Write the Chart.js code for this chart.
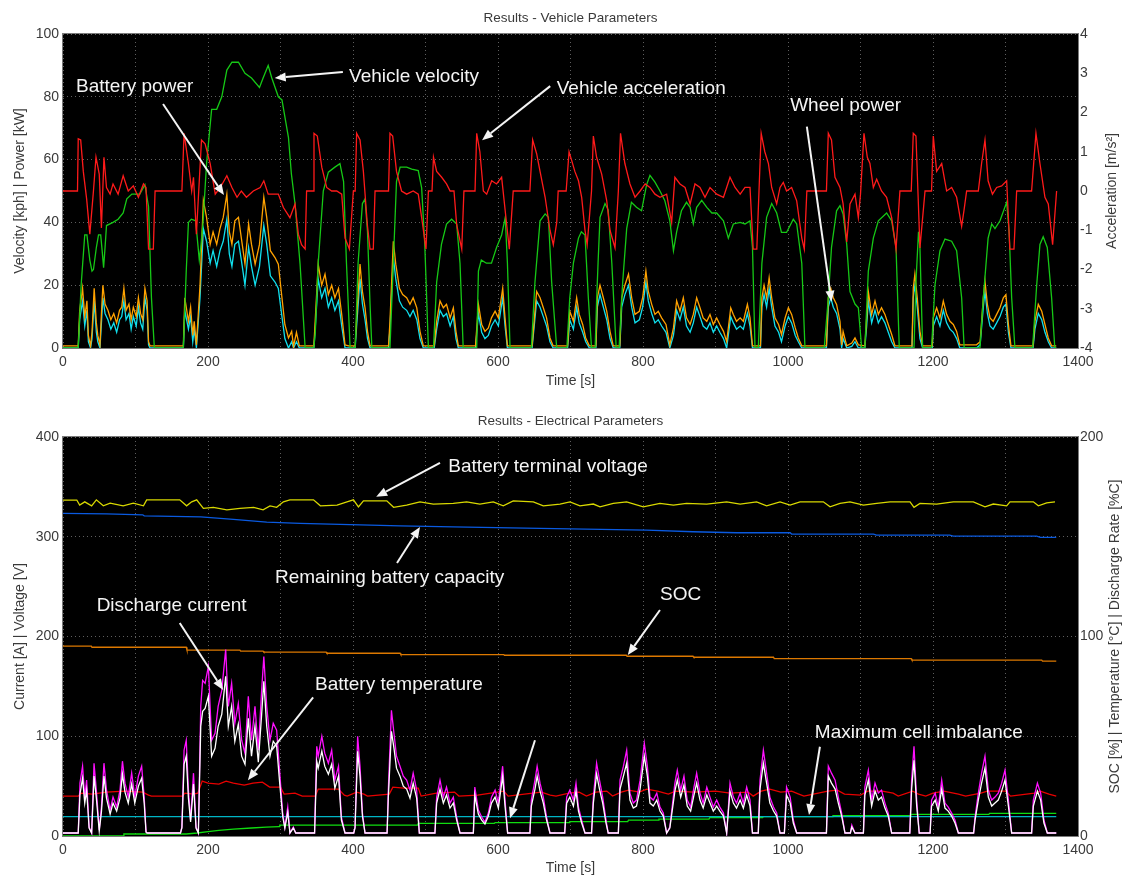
<!DOCTYPE html>
<html>
<head>
<meta charset="utf-8">
<script src="https://cdn.jsdelivr.net/npm/chart.js@4"></script>
<style>
  body { margin: 0; background: #fff; }
  canvas { position: absolute; left: 0; }
  #vehicle { top: 0; }
  #electric { top: 400px; }
</style>
</head>
<body>
<canvas id="vehicle" width="1128" height="400"></canvas>
<canvas id="electric" width="1128" height="477"></canvas>
<script>
// time [s] / value pairs
const velocity = [[0,0],[21,0],[25,20],[30,36],[33,36],[37,28],[40,24.5],[42,25],[46,32],[49,36],[52,36],[54,31],[56,25.6],[58,32],[60,39],[69,40],[76,41],[83,43],[88,47.5],[95,49],[106,49],[113,52],[118,45],[122,16],[126,0],
  [166,0],[170,24.5],[173,40],[177,41],[183,40.5],[186,33],[188,28],[190,32],[193,39.5],[198,58.7],[205,76],[212,76],[219,80],[226,88.5],[233,91],[242,91],[251,87.5],[260,86],[271,83],[276,86],[283,90],[288,86],[297,80],[302,79],[311,67],[315,55.5],[320,46],[327,26.7],[334,0],
  [346,0],[348,5],[352,27],[359,50],[366,56],[375,57.6],[382,58.7],[387,53],[391,27],[396,0],[403,0],[407,27],[413,46],[416.6,47.5],[420,37],[423.5,14],[426,0],
  [451,0],[455.6,27],[460,53],[465,57.6],[474,57.6],[481,57],[490,56.5],[494.7,51],[499,33],[504,0],[511,0],[515.4,21],[522,33],[529,39.5],[536,41],[543,39.5],[547.6,27],[552,0],
  [570.6,0],[573,24.5],[577,28],[584,27],[591,27],[598,32],[605,36],[610,41.6],[613,27],[616.6,0],[646,0],[651,21],[658,40.5],[665,42.7],[669.5,41.6],[674,21],[681,0],
  [695,0],[699,16],[704,27],[711,35],[715,37],[720,36],[724.6,16],[729,0],[734,0],[736,15],[738,27],[740.7,41.6],[747.6,46],[752,44],[757,27],[763,0],
  [767,0],[772,21],[777.5,38],[784,46.4],[791,44.8],[798,43.7],[805,52],[809.6,55],[816.5,52.8],[823.4,50],[830,47],[837,40.5],[842,31],[846.4,37],[853,43.7],[860,46.4],[865,44.8],[869.4,39.5],[874,44.8],[881,47],[888,44.8],[895,43],[901.6,43],[911,40.5],[917.7,35],[924.6,39.5],[934,40],[940.7,39.5],[947.6,40.5],[951,32],[954.5,0],
  [959,0],[964,27],[970.5,41.6],[977.5,46],[984.4,43],[991,36.8],[998,36.8],[1007.3,41],[1012,39.5],[1019,27],[1023.4,0],
  [1050,0],[1055.6,16],[1060,32],[1067,43.7],[1071.7,45.3],[1076,42.7],[1081,33],[1085.5,18],[1092.4,14],[1097,12.8],[1101.6,0],[1106,0],[1110.8,24.5],[1117.7,35],[1124.6,40.5],[1136,43],[1143,40.5],[1149,32],[1153.5,0],
  [1173.8,0],[1176.5,21],[1180,37],[1182,32],[1185.7,0],[1198,0],[1202.7,20],[1209.6,31],[1216.5,34.7],[1225.7,34],[1232.6,31],[1239.5,16],[1243,0],
  [1264.8,0],[1269.4,16],[1276,35],[1281,39.5],[1285.5,38],[1292.4,40.5],[1301.6,46.4],[1305,37],[1308.5,16],[1313,0],[1337.4,0],[1343,20],[1347.5,33],[1352,35.4],[1357.6,32],[1363.6,16],[1368,0],[1370,0]];

const acceleration = [[0,0],[20,0],[21,1.33],[24.4,1.3],[28,0.5],[32.6,-0.2],[37,-1.1],[42,0],[45.5,0.86],[50,0.43],[53,-0.94],[56.5,0.86],[60,0.09],[65,-0.08],[69,0.18],[76,-0.08],[83,0.39],[90,0],[97,0.13],[104,-0.16],[111,0.18],[114.5,0.09],[118,-1.48],[124.6,-1.48],[127,0],
  [164,0],[167,1.47],[173,0.7],[177.5,0],[180,0.35],[184,-1.1],[191,1.3],[196,1.2],[203,0.7],[210,-0.08],[217,0.09],[226,0.39],[233,0.09],[240,-0.16],[246,0],[253,-0.16],[262.5,0],[272,0.09],[277,0.26],[283,-0.08],[297,-0.08],[304,-0.42],[313,-0.68],[320,-0.33],[324.6,-1.1],[329,-1.37],[334,-1.48],[336,0],
  [345,0],[346.2,1.47],[350.8,1.4],[357,0.6],[363.7,0.09],[370.6,0],[377.5,0],[384.4,-0.08],[389,-1.2],[395,-1.48],[400.5,0],[403,0],[405,1.47],[409.7,1.3],[414.3,0.5],[419.8,-0.86],[423.5,-1.48],[428,-1.48],[430.4,0],
  [449,0],[451,1.47],[454.7,1.4],[460,0.5],[467,0],[474,-0.08],[483,0],[490,-0.08],[494.7,-0.68],[500.7,-1.48],[504,0],[509,0],[511,0.86],[515.4,0.5],[522.3,0.35],[529,0.18],[534,0],[539.3,0],[543,-0.86],[550,-1.48],[553,0],
  [568.3,0],[570.6,1.47],[575,1.0],[579.8,0],[584.4,-0.08],[591.3,0.26],[598,0.18],[605,0.35],[612,-0.86],[615.6,-1.48],[621,0],[644,0],[647.8,1.3],[653.3,0.95],[658,0.5],[665,-0.16],[671.7,-1.0],[676.3,-1.37],[681,-0.8],[683,0],
  [694,0],[698,1.0],[701.6,0.78],[706,0.5],[711,0.26],[715.4,-0.16],[720,-1.0],[723,-1.37],[729,0],[731.5,1.4],[736,0.86],[743,0.43],[750,-0.25],[754.5,-1.0],[761.4,-1.45],[766,0],
  [769,1.47],[775,0.7],[782,0.18],[789,-0.16],[796,0],[803,0.18],[809.6,0.09],[816.5,-0.08],[823.4,-0.16],[832.6,-0.08],[839.5,-0.8],[844,0.35],[851,0.18],[858,0.09],[865,-0.33],[871.7,0.18],[878.6,0.09],[885.5,-0.16],[892.4,0.09],[901.6,-0.08],[911,-0.16],[920,0.35],[927,0.09],[934,-0.08],[940.7,0.09],[947.6,0.09],[952,-1.48],[957,-1.48],[960,0],
  [963,1.47],[968,1.0],[973,0.7],[977.5,0.09],[984.4,-0.33],[989,0.09],[993.5,0.22],[998,0],[1005,0.09],[1012,-0.25],[1019,-1.2],[1022.5,-1.48],[1026,0],
  [1053,0],[1055.6,1.47],[1060,1.3],[1064.8,0.35],[1071.7,0.09],[1076,-0.33],[1081,-1.3],[1085.5,-0.33],[1092.4,-0.08],[1097,-0.68],[1100,-0.08],[1104.8,1.47],[1109.4,0.86],[1113,0.7],[1117.7,0.09],[1122.3,0.3],[1129,0],[1136,-0.16],[1143,-0.68],[1149,-1.48],[1154.4,0],
  [1170,0],[1172.8,1.47],[1176.5,1.4],[1182,-1.45],[1189,0],[1198,0],[1200.4,1.4],[1205,0.5],[1212,0.7],[1218.8,0],[1225.7,0.09],[1232.6,-0.16],[1239.5,-0.9],[1242.7,-0.5],[1246.4,0],
  [1262.5,0],[1267,0.7],[1271.7,1.3],[1276,0.26],[1282,-0.08],[1287.8,0.09],[1294.7,0.13],[1301.6,0.26],[1306,-1.48],[1311.7,-1.48],[1315.4,0],[1336,0],[1342,1.47],[1347.5,0.7],[1354.4,-0.16],[1359,-0.33],[1365,-1.37],[1370.5,0]];

const batteryPower = [[0,0.7],[21,0.7],[23,12],[27,19],[30,10],[33,15],[35,4],[38,0.7],[40,5],[43,19],[46,8],[48,4],[51,1],[53,11],[55,20],[58,14],[62,12],[66,9],[70,11],[74,8],[78,12],[81,13],[84,19],[87,12],[91,14],[94,9],[97,13],[101,10],[104,16],[107,11],[110,9],[113,19],[116,15],[118,2],[120,0.7],
  [166,0.7],[168,16],[173,8.5],[176,13],[179,4],[181,8.5],[184,1],[189,20],[193.6,47],[198,41.6],[203,33],[207,37],[212,33],[216.5,38],[221,41.6],[226,49],[229.4,37],[233,33],[237,40.5],[242,41.6],[246,35],[251,26.7],[256,39.5],[260,33],[265,26.7],[271,33],[277,48],[281,41.6],[286,31],[292.4,28.8],[297,26.7],[302,16],[306,7.5],[311,3.2],[315.4,5.3],[318,0.5],[322,5],[326,0.7],
  [346,0.7],[347.6,7.5],[352,26.7],[356.8,20],[361.4,23.5],[366,17],[370.6,20],[375,16],[380,19],[384.4,10.7],[389,1],[394,0.7],[403,0.7],[405,9.6],[409.7,26.7],[413,18],[416.6,12.8],[420,5.3],[423.5,0.7],
  [449,0.7],[451,8.5],[455.6,34],[459,26.7],[464,19],[468.5,17],[474,16],[478.6,13.9],[483,16],[488,12.8],[492.4,5.3],[497,0.7],[512,0.7],[515.4,8.5],[520,15],[524.6,12.8],[529,13.9],[534,9.6],[538.4,12.8],[542,5.3],[545.3,0.7],
  [569,0.7],[573,13.9],[577.5,7.5],[582,5.3],[586.7,6.4],[591,9.6],[596,11.7],[600.5,9.6],[606.5,19],[609.7,9.6],[613,0.7],[647,0.7],[653.3,18],[658,16],[662.5,12.8],[667,9.6],[671.7,3.2],[676,0.7],
  [696,0.7],[699,11.7],[704,8.5],[708.5,16],[712,10.7],[716.8,7.5],[721,3.2],[726,0.7],[735,0.7],[737,16],[740.7,20],[745.3,16],[750,11.7],[754.5,5.3],[759,0.7],
  [768,0.7],[770.6,16],[775,20],[780,23.5],[784.4,16],[789,10.7],[795,11.7],[799.5,16],[804,24.5],[807.3,18],[812,13.9],[816.5,10.7],[821,11.7],[825.7,9.6],[831.7,7.5],[837,1],[842,6.4],[846.4,15],[851,11.7],[855.6,16],[860,9.6],[865,7.5],[869.4,10.7],[874,16],[878.6,12.8],[883,9.6],[888,8.5],[892.4,10.7],[897,7.5],[901.6,9.6],[906,7.5],[911,5.3],[915.4,2],[921,12.8],[924.6,10.7],[929,8.5],[934,9.6],[938.4,8.5],[944,13.9],[947.6,9.6],[951,0.7],
  [962,0.7],[964,16],[967,20],[970.5,16],[974,22.4],[977.5,16],[982,9.6],[987,7.5],[991,4.3],[996,9.6],[1000.5,12.8],[1005,10.7],[1010,6.4],[1014.2,3.2],[1019,0.7],
  [1053,0.7],[1055.6,16],[1059,19],[1062.5,16],[1067,13.9],[1071.7,8.5],[1074,1],[1076,5.3],[1081,0.7],[1088,1.6],[1092.4,3.2],[1097,1],[1106,0.7],[1108.5,9.6],[1110.8,18],[1115.4,10.7],[1120,15],[1124.6,10.7],[1129,12.8],[1133.7,10.7],[1138.3,7.5],[1143,4.3],[1147.5,0.7],
  [1171,0.7],[1172.8,19],[1175,23.5],[1178.3,16],[1182,5.3],[1185.7,0.7],[1199,0.7],[1200.4,9.6],[1205,12.8],[1209.6,9.6],[1214.2,15],[1218.8,10.7],[1223.4,8.5],[1228,7.5],[1232.6,5.3],[1237,1],
  [1260,1],[1265,2],[1269.4,16],[1271.7,21.3],[1275,13.9],[1278.6,9.6],[1283,8.5],[1287.8,10.7],[1292.4,12.8],[1297,16],[1300.6,17],[1304,7.5],[1307.5,0.7],[1338,0.7],[1340.6,8.5],[1345.2,13.9],[1350,11.7],[1354.4,7.5],[1359,3.2],[1363.6,0.7],[1370,0.7]];

const wheelPower = [[0,0],[21,0],[23,9],[27,15],[30,7],[33,12],[35,2],[38,0],[40,3],[43,15],[46,5],[48,2],[51,0],[53,8],[55,16],[58,11],[62,9],[66,6],[70,8],[74,5],[78,9],[81,10],[84,15],[87,9],[91,11],[94,6],[97,10],[101,7],[104,13],[107,8],[110,6],[113,16],[116,12],[118,1],[120,0],
  [166,0],[168,12],[173,6],[176,10],[179,2],[181,6],[184,0],[189,16],[193.6,38],[198,34],[203,27],[207,31],[212,26],[216.5,31],[221,34],[226,41],[229.4,30],[233,26],[237,33],[242,34],[246,28],[251,20],[256,32],[260,26],[265,20],[271,26],[277,39],[281,33],[286,23],[292.4,21],[297,19],[302,10],[306,3],[311,0],[315.4,2],[318,0],[322,2],[326,0],
  [346,0],[347.6,5],[352,22],[356.8,16],[361.4,19],[366,13],[370.6,16],[375,12],[380,15],[384.4,7],[389,0],[403,0],[405,7],[409.7,22],[413,14],[416.6,9],[420,3],[423.5,0],
  [449,0],[451,6],[455.6,29],[459,22],[464,15],[468.5,13],[474,12],[478.6,10],[483,12],[488,9],[492.4,3],[497,0],[512,0],[515.4,6],[520,12],[524.6,10],[529,11],[534,7],[538.4,10],[542,3],[545.3,0],
  [569,0],[573,11],[577.5,5],[582,3],[586.7,4],[591,7],[596,9],[600.5,7],[606.5,16],[609.7,7],[613,0],[647,0],[653.3,15],[658,13],[662.5,10],[667,7],[671.7,2],[676,0],
  [696,0],[699,9],[704,6],[708.5,13],[712,8],[716.8,5],[721,2],[726,0],[735,0],[737,13],[740.7,17],[745.3,13],[750,9],[754.5,3],[759,0],
  [768,0],[770.6,13],[775,17],[780,20],[784.4,13],[789,8],[795,9],[799.5,13],[804,21],[807.3,15],[812,11],[816.5,8],[821,9],[825.7,7],[831.7,5],[837,0],[842,4],[846.4,12],[851,9],[855.6,13],[860,7],[865,5],[869.4,8],[874,13],[878.6,10],[883,7],[888,6],[892.4,8],[897,5],[901.6,7],[906,5],[911,3],[915.4,0],[921,10],[924.6,8],[929,6],[934,7],[938.4,6],[944,11],[947.6,7],[951,0],
  [962,0],[964,13],[967,17],[970.5,13],[974,19],[977.5,13],[982,7],[987,5],[991,2],[996,7],[1000.5,10],[1005,8],[1010,4],[1014.2,2],[1019,0],
  [1053,0],[1055.6,13],[1059,16],[1062.5,13],[1067,11],[1071.7,6],[1074,0],[1076,3],[1081,0],[1088,0.5],[1092.4,2],[1097,0],[1106,0],[1108.5,7],[1110.8,15],[1115.4,8],[1120,12],[1124.6,8],[1129,10],[1133.7,8],[1138.3,5],[1143,2],[1147.5,0],
  [1171,0],[1172.8,16],[1175,20],[1178.3,13],[1182,3],[1185.7,0],[1199,0],[1200.4,7],[1205,10],[1209.6,7],[1214.2,12],[1218.8,8],[1223.4,6],[1228,5],[1232.6,3],[1237,0],
  [1260,0],[1265,1],[1269.4,13],[1271.7,18],[1275,11],[1278.6,7],[1283,6],[1287.8,8],[1292.4,10],[1297,13],[1300.6,14],[1304,5],[1307.5,0],[1338,0],[1340.6,6],[1345.2,11],[1350,9],[1354.4,5],[1359,2],[1363.6,0],[1370,0]];

const terminalVoltage = [[0,336.8],[19,336.8],[23,331.8],[30,335],[39.5,331],[46,337],[55.6,331],[65,333.6],[83,331],[97,333.6],[111,331],[115.4,337],[161,337],[170.5,331],[177.5,335],[184.4,337],[193.6,328.5],[207.4,329.5],[226,327],[244,328.5],[263,329.5],[276,327],[285.5,331],[294.7,329.5],[304,335],[313,337],[345.5,337],[355,331],[378,331.8],[391.7,335],[400.6,337],[407.5,330],[414.4,336],[446.6,336],[456,329.5],[474,331.8],[492.4,335],[510.8,332.8],[538.4,333.4],[556.7,335],[575,332.8],[593.5,335],[607.3,331],[621,336],[648.7,335],[662.5,331],[685.5,332.8],[699.3,335],[713,331],[731.5,332.8],[740.7,330],[759,333.4],[777.4,335],[800.4,330],[823.4,333.4],[842,331.8],[860,333.4],[887.8,332.8],[915.4,335],[934,332.8],[956.7,335],[970.5,331],[989,335],[1002.8,331.8],[1016.6,335],[1048.7,335],[1058,330],[1071.7,333.4],[1085.5,335],[1104,331.8],[1122.3,333.4],[1140.7,335],[1168.3,335],[1173.8,329.5],[1182,333.4],[1205,332.8],[1228,335],[1255.6,335],[1271.7,330],[1283.2,332.8],[1301.6,331],[1306.2,335],[1338.4,335],[1345.3,331],[1356.8,334],[1368.3,335]];

const remainingCapacity = [[0,323.5],[60,323],[110,322],[112,321],[190,320],[235,317.5],[281,314.7],[327,313.4],[410,312],[465,311],[538,310],[658,308.4],[805,306.7],[869,305],[929,304],[1003,304],[1005,302.7],[1118,302.7],[1122,301.7],[1223,301.7],[1228,300.7],[1343,300.7],[1348,299.4],[1370,299.4]];

const soc = [[0,95.2],[39,95.2],[40,94.6],[170,94.6],[171,93.2],[244,93.2],[245,92.7],[276,92.7],[277,92.2],[363,92.2],[364,91.6],[465,91.6],[466,90.9],[608,90.9],[609,90.6],[777,90.6],[778,90.1],[869,90.1],[870,89.6],[980,89.6],[981,88.9],[1170,88.9],[1171,88.2],[1350,88.2],[1351,87.7],[1370,87.7]];

const dischargeCurrent = [[0,3],[21,3],[23.4,53],[27,70],[30,39],[32.6,56],[36,9],[39.5,3],[42.8,73],[46,46],[50,6],[53,29],[56.5,73],[60,46],[65,26],[69,39],[74,29],[78.6,46],[82,75],[85.5,53],[90,39],[94.7,63],[99,39],[104,60],[108.5,70],[112,39],[114.5,4],[116,3],
  [162,3],[164,9],[167,86],[170,96],[173,46],[176,16],[180,63],[183.5,9],[186.7,3],[190,130],[192.6,156],[196,153],[200.5,170],[205,96],[209.7,103],[214,130],[219,146],[224.4,187],[228,130],[232.6,153],[237,113],[241.8,133],[246.4,96],[251,83],[255.6,140],[260,96],[264.8,130],[269.4,86],[274,146],[277,180],[281,130],[285.5,96],[290,113],[294.7,106],[299,63],[303,23],[306,9],[310,29],[313,3],[317.7,9],[321,3],
  [347,3],[350,90],[352,80],[357,100],[361,83],[366,73],[370.6,86],[375,56],[380,70],[384,19],[389,3],[401,3],[402.8,9],[406.4,100],[409.7,70],[413,23],[416.6,3],
  [447,3],[448.7,46],[453,126],[456.5,103],[460,80],[464.8,70],[469.4,60],[474,56],[478.6,46],[483,63],[487.8,46],[491.5,3],[513,3],[515.4,39],[520,56],[524.6,39],[529,49],[533.8,33],[538.4,39],[543,19],[547.6,3],
  [566,3],[568,49],[572.9,26],[577.5,19],[582,14],[586.7,23],[591,39],[596,46],[600.5,33],[606.4,70],[609.7,36],[613.3,3],[644,3],[646,36],[651,56],[654,70],[658,53],[662.5,39],[667,19],[671.7,3],
  [692,3],[694.7,39],[699,46],[704,36],[707.6,53],[711,29],[715.4,16],[720,3],[729,3],[731.5,39],[736,73],[740,56],[744.4,39],[749,16],[752,3],
  [766,3],[768.3,56],[773,70],[777.5,86],[782,43],[786.6,33],[791,36],[796,56],[801.8,93],[806,70],[809.6,39],[814.2,36],[819,43],[823.4,29],[828,23],[832.6,3],[837,9],[844,53],[847.3,66],[852,46],[856.5,60],[861,36],[865.7,29],[870.3,49],[874,63],[878.6,43],[883,33],[888,49],[892.4,39],[897,29],[901.6,36],[906,29],[911,23],[915.4,3],[920,53],[924.6,39],[929,33],[934,43],[938.4,33],[943,49],[947.6,36],[951,3],
  [959,3],[961.4,56],[966,86],[970.5,63],[975,39],[980,29],[984.4,23],[989,3],[995,3],[998,49],[1003,39],[1007.3,16],[1012,3],
  [1053,3],[1055.6,70],[1060,63],[1065,56],[1069.4,39],[1074,23],[1078.6,3],[1086,3],[1088,11],[1092.4,3],[1104,3],[1106,49],[1110.8,66],[1115.4,36],[1120,53],[1124.6,43],[1129,46],[1133.7,33],[1138.3,23],[1143,3],
  [1168,3],[1170.5,56],[1173.8,90],[1177.5,36],[1181,3],[1196,3],[1198,36],[1203,43],[1207.3,29],[1212,56],[1216.5,33],[1221,29],[1225.7,23],[1230.3,16],[1235,3],
  [1256,3],[1258,19],[1262.5,43],[1267,63],[1271.7,80],[1276.3,46],[1281,36],[1285.5,39],[1290,43],[1294.7,53],[1299.3,66],[1304,36],[1308.5,3],[1336,3],[1338.4,36],[1344,53],[1348.5,43],[1353,16],[1357.7,3],[1370,3]];

const filteredCurrent = [[0,3],[21,3],[23.4,42],[27,58],[30,33],[32.6,46],[36,8],[39.5,3],[42.8,60],[46,38],[50,5],[53,24],[56.5,60],[60,38],[65,22],[69,33],[74,25],[78.6,38],[82,62],[85.5,44],[90,33],[94.7,52],[99,33],[104,50],[108.5,58],[112,33],[114.5,4],[116,3],
  [162,3],[164,8],[167,72],[170,80],[173,38],[176,14],[180,52],[183.5,8],[186.7,3],[190,110],[192.6,125],[196,128],[200.5,140],[205,80],[209.7,88],[214,110],[219,122],[224.4,160],[228,110],[232.6,130],[237,95],[241.8,112],[246.4,80],[251,72],[255.6,118],[260,80],[264.8,110],[269.4,74],[274,122],[277,155],[281,110],[285.5,80],[290,95],[294.7,90],[299,52],[303,20],[306,8],[310,24],[313,3],[317.7,8],[321,3],
  [347,3],[350,75],[352,68],[357,85],[361,70],[366,62],[370.6,72],[375,48],[380,60],[384,16],[389,3],[401,3],[402.8,8],[406.4,85],[409.7,60],[413,20],[416.6,3],
  [447,3],[448.7,38],[453,105],[456.5,88],[460,68],[464.8,60],[469.4,50],[474,47],[478.6,38],[483,53],[487.8,38],[491.5,3],[513,3],[515.4,33],[520,47],[524.6,33],[529,41],[533.8,28],[538.4,33],[543,16],[547.6,3],
  [566,3],[568,41],[572.9,22],[577.5,16],[582,12],[586.7,20],[591,33],[596,39],[600.5,28],[606.4,60],[609.7,30],[613.3,3],[644,3],[646,30],[651,47],[654,60],[658,45],[662.5,33],[667,16],[671.7,3],
  [692,3],[694.7,33],[699,39],[704,30],[707.6,45],[711,25],[715.4,13],[720,3],[729,3],[731.5,33],[736,62],[740,47],[744.4,33],[749,13],[752,3],
  [766,3],[768.3,47],[773,60],[777.5,73],[782,36],[786.6,28],[791,30],[796,47],[801.8,80],[806,60],[809.6,33],[814.2,30],[819,36],[823.4,25],[828,20],[832.6,3],[837,8],[844,45],[847.3,56],[852,39],[856.5,51],[861,30],[865.7,25],[870.3,41],[874,53],[878.6,36],[883,28],[888,41],[892.4,33],[897,25],[901.6,30],[906,25],[911,20],[915.4,3],[920,45],[924.6,33],[929,28],[934,36],[938.4,28],[943,41],[947.6,30],[951,3],
  [959,3],[961.4,47],[966,73],[970.5,53],[975,33],[980,25],[984.4,20],[989,3],[995,3],[998,41],[1003,33],[1007.3,13],[1012,3],
  [1053,3],[1055.6,60],[1060,53],[1065,47],[1069.4,33],[1074,20],[1078.6,3],[1086,3],[1088,9],[1092.4,3],[1104,3],[1106,41],[1110.8,56],[1115.4,30],[1120,45],[1124.6,36],[1129,39],[1133.7,28],[1138.3,20],[1143,3],
  [1168,3],[1170.5,47],[1173.8,76],[1177.5,30],[1181,3],[1196,3],[1198,30],[1203,36],[1207.3,25],[1212,47],[1216.5,28],[1221,25],[1225.7,20],[1230.3,13],[1235,3],
  [1256,3],[1258,16],[1262.5,36],[1267,53],[1271.7,68],[1276.3,39],[1281,30],[1285.5,33],[1290,36],[1294.7,45],[1299.3,56],[1304,30],[1308.5,3],[1336,3],[1338.4,30],[1344,45],[1348.5,36],[1353,13],[1357.7,3],[1370,3]];

const temperature = [[0,20],[21,20],[25,21.5],[40,21],[60,22],[85,22.5],[110,22],[118,20.5],[122,20],[165,20],[168,21.5],[180,21],[186,21.5],[192,27.5],[200,26.5],[215,26],[225,27.5],[235,26.5],[250,25.5],[262,26.5],[275,27],[285,24.5],[300,24.5],[305,21],[320,21.5],[330,20],[348,20],[352,23.5],[380,23.5],[388,20.5],[392,20],[405,22],[415,21],[420,20],[450,21],[455,24.5],[470,24],[490,24],[494,20],[515,21.5],[540,22],[546,20],[572,20.5],[590,21.5],[608,22.5],[614,20],[648,21.5],[660,22],[672,20.5],[680,20],[698,21.5],[712,22],[722,20],[735,22],[750,22.5],[758,20],[770,22],[780,23],[795,22],[805,23.5],[820,22.5],[835,21],[845,22.5],[870,22],[900,22.5],[920,21.5],[945,22],[952,20],[963,22.5],[975,23.5],[990,22],[1005,22.5],[1015,21],[1022,20],[1055,22.5],[1068,23],[1078,21],[1100,20.5],[1110,22.5],[1130,22.5],[1145,21.5],[1152,20],[1172,22.5],[1180,21],[1190,20],[1200,21.5],[1215,22.5],[1235,21],[1245,20],[1266,21.5],[1275,22.5],[1300,22.5],[1307,20],[1340,21.5],[1348,22.5],[1360,21],[1370,20]];

const cellImbalance = [[0,19.4],[1370,19.4]];

const dischargeRate = [[0,0],[83,0],[84,1],[170,1],[185,1.5],[200,2.2],[215,2.8],[235,3.4],[260,4],[280,4.4],[298,4.65],[299,5.5],[489,5.5],[490,6.3],[595,6.3],[596,6.7],[698,6.7],[699,7.2],[779,7.2],[780,8],[821,8],[822,8.5],[891,8.5],[892,9.2],[965,9.2],[966,9.7],[1061,9.7],[1062,10.2],[1169,10.2],[1170,10.8],[1277,10.8],[1278,11.3],[1370,11.3]];

// annotation texts and arrows (data coordinates)
const vehicleNotes = [
  { text: 'Battery power', at: [18, 81.5] },
  { text: 'Vehicle velocity', at: [394.5, 84.7] },
  { text: 'Vehicle acceleration', at: [681, 80.9] },
  { text: 'Wheel power', at: [1003, 75.5] }
];
const vehicleArrows = [
  { from: [138, 77.7], to: [222, 48.7] },
  { from: [386, 87.9], to: [292, 86] },
  { from: [672, 83.4], to: [578, 66.2] },
  { from: [1026, 70.5], to: [1060, 14.7] }
];
const electricNotes = [
  { text: 'Battery terminal voltage', at: [531.5, 365.4] },
  { text: 'Remaining battery capacity', at: [292.4, 253.6] },
  { text: 'Discharge current', at: [46.4, 226] },
  { text: 'Battery temperature', at: [347.6, 146.4] },
  { text: 'SOC', at: [823.4, 236.6] },
  { text: 'Maximum cell imbalance', at: [1037, 98] }
];
const electricArrows = [
  { from: [520, 374], to: [432, 340] },
  { from: [460.7, 273.7], to: [492.4, 309.8] },
  { from: [161, 213.5], to: [221, 146.4] },
  { from: [345, 139], to: [255, 56] },
  { from: [823.4, 226.6], to: [779, 181.4] },
  { from: [1044, 89.5], to: [1029, 21] },
  { from: [651, 96], to: [616.6, 17.7] }
];

const pts = arr => arr.map(([x, y]) => ({ x, y }));
const line = (label, data, color, axis) => ({
  label, data: pts(data), borderColor: color, borderWidth: 1.3,
  pointRadius: 0, yAxisID: axis, tension: 0
});

const TXT = '#3a3a3a';

const decor = {
  id: 'decor',
  beforeDraw(chart) {
    const { ctx, chartArea: a } = chart;
    ctx.save();
    ctx.fillStyle = '#fff';
    ctx.fillRect(0, 0, chart.width, chart.height);
    ctx.fillStyle = '#000';
    ctx.fillRect(a.left, a.top, a.right - a.left, a.bottom - a.top);
    ctx.restore();
  },
  afterDraw(chart, args, o) {
    const { ctx, chartArea: a, scales } = chart;
    const px = t => scales.x.getPixelForValue(t);
    const py = v => scales.y.getPixelForValue(v);
    ctx.save();
    ctx.strokeStyle = '#7a7a7a';
    ctx.lineWidth = 1;
    ctx.strokeRect(a.left - 0.5, a.top - 0.5, a.right - a.left + 1, a.bottom - a.top + 1);

    // titles
    ctx.fillStyle = TXT;
    ctx.textAlign = 'center';
    ctx.textBaseline = 'middle';
    ctx.font = '13.5px "Liberation Sans", Arial, sans-serif';
    ctx.fillText(o.title, (a.left + a.right) / 2, o.titleY);
    ctx.font = '14px "Liberation Sans", Arial, sans-serif';
    ctx.fillText('Time [s]', (a.left + a.right) / 2, o.timeY);
    const midY = (a.top + a.bottom) / 2;
    [[20, o.leftTitle], [o.rightX, o.rightTitle]].forEach(([x, s]) => {
      ctx.save();
      ctx.translate(x, midY);
      ctx.rotate(-Math.PI / 2);
      ctx.fillText(s, 0, 0);
      ctx.restore();
    });

    // annotations
    ctx.save();
    ctx.beginPath();
    ctx.rect(a.left, a.top, a.right - a.left, a.bottom - a.top);
    ctx.clip();
    ctx.strokeStyle = '#f4f4f4';
    ctx.fillStyle = '#f4f4f4';
    ctx.lineWidth = 2;
    o.arrows.forEach(({ from, to }) => {
      const x1 = px(from[0]), y1 = py(from[1]), x2 = px(to[0]), y2 = py(to[1]);
      const ang = Math.atan2(y2 - y1, x2 - x1);
      const hl = 11, hw = 4.5;
      const bx = x2 - hl * Math.cos(ang), by = y2 - hl * Math.sin(ang);
      ctx.beginPath();
      ctx.moveTo(x1, y1);
      ctx.lineTo(bx, by);
      ctx.stroke();
      ctx.beginPath();
      ctx.moveTo(x2, y2);
      ctx.lineTo(bx + hw * Math.sin(ang), by - hw * Math.cos(ang));
      ctx.lineTo(bx - hw * Math.sin(ang), by + hw * Math.cos(ang));
      ctx.closePath();
      ctx.fill();
    });
    ctx.font = '19px "Liberation Sans", Arial, sans-serif';
    ctx.textAlign = 'left';
    ctx.textBaseline = 'alphabetic';
    o.notes.forEach(n => ctx.fillText(n.text, px(n.at[0]), py(n.at[1])));
    ctx.restore();
    ctx.restore();
  }
};

const tickFont = { family: '"Liberation Sans", Arial, sans-serif', size: 14 };

function xAxis(height) {
  return {
    type: 'linear', min: 0, max: 1400,
    ticks: {
      stepSize: 100, autoSkip: false, maxRotation: 0, padding: 6,
      color: TXT, font: tickFont,
      callback: v => (v % 200 === 0 ? String(v) : '')
    },
    grid: { color: '#5e5e5e', lineWidth: 1, drawTicks: false },
    border: { display: false, dash: [1, 3] },
    afterFit: s => { s.height = height; }
  };
}
function yAxis(pos, min, max, step, grid, width) {
  return {
    type: 'linear', position: pos, min, max,
    ticks: { stepSize: step, padding: pos === 'left' ? 4 : 2, color: TXT, font: tickFont },
    grid: { display: grid, color: '#5e5e5e', lineWidth: 1, drawTicks: false },
    border: { display: false, dash: [1, 3] },
    afterFit: s => { s.width = width; }
  };
}

new Chart(document.getElementById('vehicle'), {
  type: 'line',
  data: {
    datasets: [
      line('Vehicle acceleration', acceleration, '#ff1a1a', 'yAcc'),
      line('Vehicle velocity', velocity, '#16c816', 'y'),
      line('Battery power', batteryPower, '#ffa200', 'y'),
      line('Wheel power', wheelPower, '#10e0ee', 'y')
    ]
  },
  options: {
    responsive: false, animation: false,
    layout: { padding: { top: 34, left: 0, right: 0, bottom: 0 } },
    scales: {
      x: xAxis(52),
      y: yAxis('left', 0, 100, 20, true, 63),
      yAcc: yAxis('right', -4, 4, 1, false, 50)
    },
    plugins: {
      legend: { display: false }, tooltip: { enabled: false }, title: { display: false },
      decor: {
        title: 'Results - Vehicle Parameters', titleY: 18, timeY: 381, rightX: 1112,
        leftTitle: 'Velocity [kph] | Power [kW]', rightTitle: 'Acceleration [m/s²]',
        notes: vehicleNotes, arrows: vehicleArrows
      }
    }
  },
  plugins: [decor]
});

new Chart(document.getElementById('electric'), {
  type: 'line',
  data: {
    datasets: [
      line('Filtered current', filteredCurrent, '#ffffff', 'y'),
      line('Discharge current', dischargeCurrent, '#ff10ff', 'y'),
      line('Battery temperature', temperature, '#e80000', 'ySoc'),
      line('Maximum cell imbalance', cellImbalance, '#00b4c4', 'y'),
      line('Discharge rate', dischargeRate, '#10dd10', 'ySoc'),
      line('SOC', soc, '#dc7800', 'ySoc'),
      line('Remaining battery capacity', remainingCapacity, '#0a5ae0', 'y'),
      line('Battery terminal voltage', terminalVoltage, '#d8d800', 'y')
    ]
  },
  options: {
    responsive: false, animation: false,
    layout: { padding: { top: 37, left: 0, right: 0, bottom: 0 } },
    scales: {
      x: xAxis(41),
      y: yAxis('left', 0, 400, 100, true, 63),
      ySoc: yAxis('right', 0, 200, 100, false, 50)
    },
    plugins: {
      legend: { display: false }, tooltip: { enabled: false }, title: { display: false },
      decor: {
        title: 'Results - Electrical Parameters', titleY: 21, timeY: 468, rightX: 1115,
        leftTitle: 'Current [A] | Voltage [V]', rightTitle: 'SOC [%] | Temperature [°C] | Discharge Rate [%C]',
        notes: electricNotes, arrows: electricArrows
      }
    }
  },
  plugins: [decor]
});
</script>
</body>
</html>
